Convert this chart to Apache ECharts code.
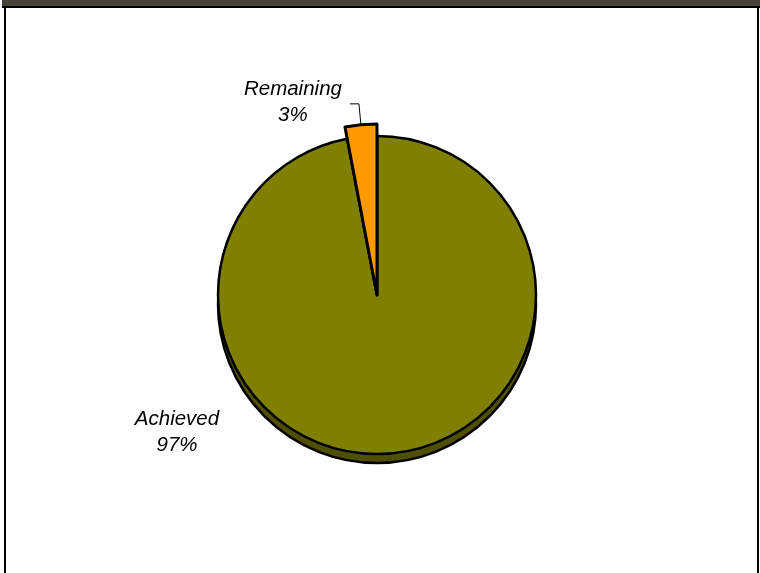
<!DOCTYPE html>
<html>
<head>
<meta charset="utf-8">
<script src="https://cdn.jsdelivr.net/npm/echarts@6/dist/echarts.min.js"></script>
<style>
  html, body { margin: 0; padding: 0; background: #fff; }
  #wrap { position: relative; width: 760px; height: 573px; overflow: hidden; }
  #chart { position: absolute; left: 0; top: 0; width: 760px; height: 573px; }
  .bar { position: absolute; left: 2px; top: 0; width: 758px; height: 6px;
         background: #48443a; border-bottom: 2px solid #000; }
  .side { position: absolute; top: 8px; bottom: 0; width: 2px; background: #000; }
</style>
</head>
<body>
<div id="wrap">
  <div id="chart"></div>
  <div class="bar"></div>
  <div class="side" style="left:4px"></div>
  <div class="side" style="left:757px"></div>
</div>
<script>
// Progress split: achieved vs remaining share
const categories = ['Achieved', 'Remaining'];
const shares = [97, 3];
const sliceColors = ['#808000', '#ff9900'];
const sideColor = '#4f4f00';

const labelFont = {
  fontFamily: '"Liberation Sans", Arial, sans-serif',
  fontStyle: 'italic',
  fontSize: 20.5,
  lineHeight: 26,
  color: '#000'
};

const center = [377, 295];

const chart = echarts.init(document.getElementById('chart'), null, { renderer: 'canvas' });

chart.setOption({
  animation: false,
  backgroundColor: 'transparent',
  series: [
    {
      // side wall of the disc, seen below the top face
      type: 'pie',
      silent: true,
      z: 1,
      center: [center[0], center[1] + 9],
      radius: [0, 159],
      startAngle: 90,
      clockwise: true,
      label: { show: false },
      labelLine: { show: false },
      itemStyle: { color: sideColor, borderColor: '#000', borderWidth: 2.5 },
      data: categories.map((name, i) => ({ name, value: shares[i] }))
    },
    {
      // top face of the disc
      type: 'pie',
      silent: true,
      z: 2,
      center: center,
      radius: [0, 159],
      startAngle: 90,
      clockwise: true,
      itemStyle: { borderColor: '#000', borderWidth: 2.5 },
      labelLine: { show: false },
      label: Object.assign({
        show: true,
        position: 'outside',
        formatter: p => p.name + '\n' + p.value + '%'
      }, labelFont),
      labelLayout: function (p) {
        if (p.dataIndex !== 0) return {};
        return { x: 177, y: 432, align: 'center', verticalAlign: 'middle' };
      },
      data: categories.map((name, i) => ({
        name,
        value: shares[i],
        itemStyle: { color: sliceColors[i] },
        label: { show: i === 0 }
      }))
    },
    {
      // pulled-out remaining wedge
      type: 'pie',
      silent: true,
      z: 3,
      center: center,
      radius: [0, 171],
      startAngle: 90,
      clockwise: true,
      avoidLabelOverlap: false,
      label: Object.assign({
        show: true,
        position: 'outside',
        formatter: p => p.name + '\n' + p.value + '%'
      }, labelFont),
      labelLine: {
        show: true,
        length: 21,
        length2: 9,
        smooth: false,
        lineStyle: { color: '#000', width: 1 }
      },
      labelLayout: function (p) {
        const pts = p.labelLinePoints;
        if (!pts || p.dataIndex !== 1) return {};
        const end = pts[pts.length - 1];
        return {
          x: end[0] - 8 - p.labelRect.width / 2,
          y: end[1] - 2,
          align: 'center',
          verticalAlign: 'middle',
          labelLinePoints: pts
        };
      },
      data: categories.map((name, i) => ({
        name,
        value: shares[i],
        itemStyle: i === 1
          ? { color: sliceColors[1], borderColor: '#000', borderWidth: 3 }
          : { color: 'rgba(0,0,0,0)', borderWidth: 0 },
        label: { show: i === 1 },
        labelLine: { show: i === 1 }
      }))
    }
  ]
});
</script>
</body>
</html>
